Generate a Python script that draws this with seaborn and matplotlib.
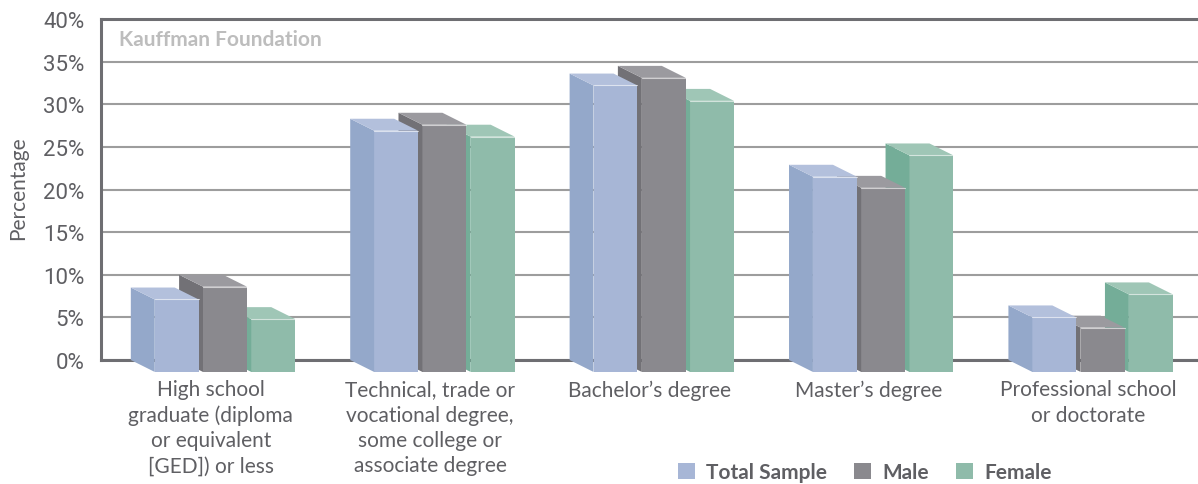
import numpy as np
import pandas as pd
import seaborn as sns
import matplotlib.pyplot as plt
from matplotlib.patches import Polygon, Patch

# Datos (en %)
categorias = [
    "High school\ngraduate (diploma\nor equivalent\n[GED]) or less",
    "Technical, trade or\nvocational degree,\nsome college or\nassociate degree",
    "Bachelor\u2019s degree",
    "Master\u2019s degree",
    "Professional school\nor doctorate",
]
grupos = ["Total Sample", "Male", "Female"]
total_sample = [8.5, 28.3, 33.6, 22.9, 6.4]
male = [10.0, 29.0, 34.5, 21.6, 5.2]
female = [6.2, 27.6, 31.8, 25.4, 9.1]

# Colores: cara frontal, lateral y superior
color_frente = ["#a7b6d6", "#8a898e", "#8fbbaa"]
color_lado = ["#94a8ca", "#727176", "#74ad98"]
color_tapa = ["#b3c0dc", "#9b9a9f", "#9fc6b6"]

df = pd.DataFrame({
    "Nivel": categorias * 3,
    "Grupo": np.repeat(grupos, len(categorias)),
    "Valor": total_sample + male + female,
})

sns.set_style("white")
plt.rcParams["font.family"] = ["Lato", "DejaVu Sans"]

fig = plt.figure(figsize=(11.98, 4.85), dpi=100)
ax = fig.add_axes([101 / 1198, 124 / 485, 1097 / 1198, 341 / 485])

sns.barplot(data=df, x="Nivel", y="Valor", hue="Grupo", palette=color_frente,
            width=0.66, gap=0.09, saturation=1, legend=False, ax=ax, zorder=3)

# Efecto 3D: profundidad hacia arriba-izquierda
dx = 0.109   # unidades de x
dy = 1.4     # puntos porcentuales
corrimiento = 0.065

for i, cont in enumerate(ax.containers):
    z = 10 - i * 2
    for p in cont.patches:
        x0 = p.get_x() + corrimiento
        w = p.get_width()
        h = p.get_height()
        p.set_x(x0)
        p.set_y(-dy)
        p.set_linewidth(0)
        p.set_zorder(z)
        p.set_clip_on(False)
        lado = Polygon([(x0, -dy), (x0, h - dy), (x0 - dx, h), (x0 - dx, 0)],
                       closed=True, facecolor=color_lado[i], edgecolor="none",
                       zorder=z, clip_on=False)
        tapa = Polygon([(x0, h - dy), (x0 + w, h - dy), (x0 + w - dx, h), (x0 - dx, h)],
                       closed=True, facecolor=color_tapa[i], edgecolor="none",
                       zorder=z, clip_on=False)
        ax.add_patch(lado)
        ax.add_patch(tapa)
        ax.plot([x0, x0 + w], [h - dy, h - dy], color="white", lw=0.8, alpha=0.6,
                zorder=z + 0.5, clip_on=False)

ax.set_xlim(-0.5, 4.5)
ax.set_ylim(0, 40)
ax.set_yticks(range(0, 41, 5))
ax.set_yticklabels([f"{v}%" for v in range(0, 41, 5)],
                   family=["Roboto", "DejaVu Sans"],
                   fontsize=16, color="#5f5f63")
ax.tick_params(axis="y", length=0, pad=12)
ax.tick_params(axis="x", length=0, pad=14)
for lab in ax.get_xticklabels():
    lab.set_fontsize(15)
    lab.set_color("#5f5f63")
    lab.set_linespacing(1.32)
    lab.set_verticalalignment("top")
ax.set_xlabel("")
ax.set_ylabel("")

ax.grid(axis="y", color="#9d9d9d", lw=1.5, zorder=0)
ax.set_axisbelow(True)
for lado_sp in ["left", "top", "bottom"]:
    ax.spines[lado_sp].set_color("#6e6e72")
    ax.spines[lado_sp].set_linewidth(2.2)
ax.spines["right"].set_visible(False)

ax.text(0.016, 0.94, "Kauffman Foundation", transform=ax.transAxes,
        fontsize=15, fontweight="bold", color="#bdbdbd", va="center", ha="left")

fig.text(18 / 1198, 1 - 188 / 485, "Percentage", rotation=90, fontsize=15,
         color="#5f5f63", ha="center", va="center")

manijas = [Patch(facecolor=c, edgecolor="none") for c in color_frente]
fig.legend(manijas, grupos, loc="center", bbox_to_anchor=(865 / 1198, 1 - 473 / 485),
           ncol=3, frameon=False, handlelength=0.8, handleheight=0.8,
           handletextpad=0.55, columnspacing=1.3,
           prop={"weight": "bold", "size": 15}, labelcolor="#5f5f63")

fig.savefig("out.png", dpi=100)
